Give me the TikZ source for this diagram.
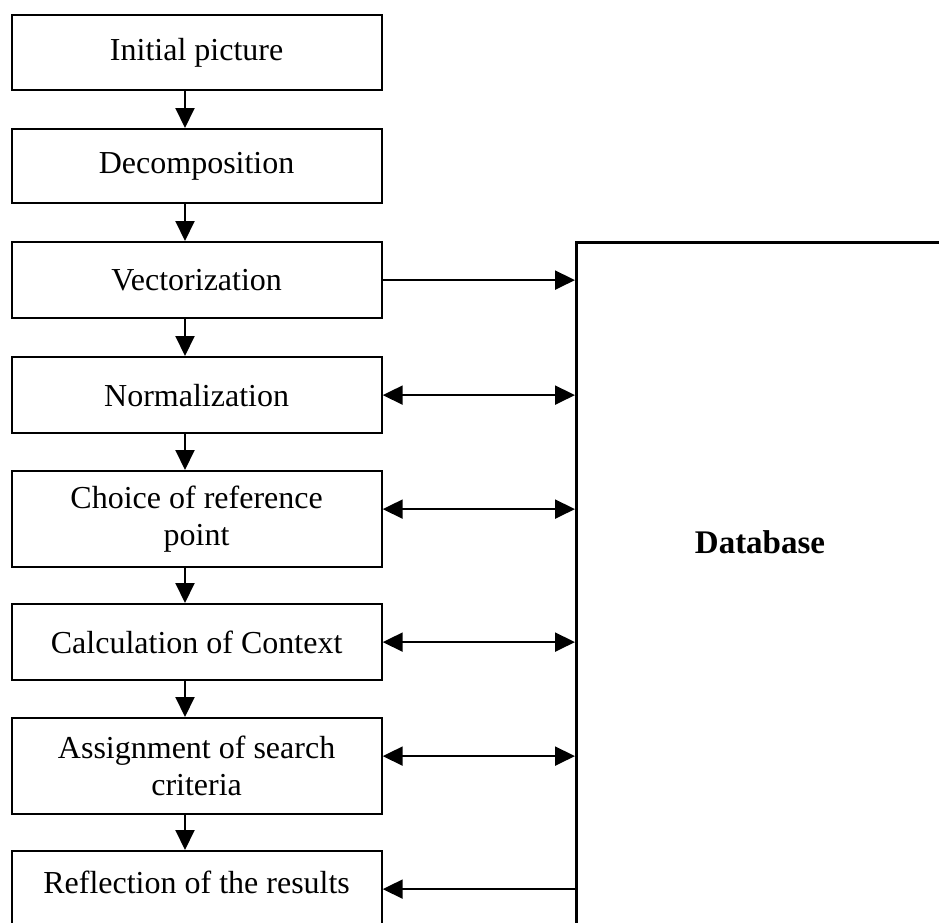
\documentclass[tikz,border=0pt]{standalone}
\usepackage{fontspec}
\setmainfont{Liberation Serif}
\usetikzlibrary{arrows.meta}
\begin{document}
\begin{tikzpicture}[x=1bp,y=-1bp,
  stepbox/.style={draw=black, line width=2.2bp, minimum width=370bp, inner sep=2bp, align=center, font=\fontsize{32bp}{37bp}\selectfont, anchor=north west},
  arr/.style={line width=2bp, >={Triangle[length=20bp,width=19bp]}},
  dbbox/.style={draw=black, line width=2.6bp, minimum width=700bp, minimum height=900bp, anchor=north west, inner sep=0pt},
  dblabel/.style={font=\fontsize{33bp}{38bp}\selectfont\bfseries}
]
\useasboundingbox (0,0) rectangle (939,923);
\clip (0,0) rectangle (939,923);
\fill[white] (0,0) rectangle (939,923);

\node[stepbox, minimum height=75bp] (ini) at (10.5,14) {Initial picture};
\node[stepbox, minimum height=74bp] (dec) at (10.5,128) {Decomposition};
\node[stepbox, minimum height=76bp] (vec) at (10.5,241) {Vectorization};
\node[stepbox, minimum height=76bp] (nor) at (10.5,356) {Normalization};
\node[stepbox, minimum height=96bp] (cho) at (10.5,470) {Choice of reference\\point};
\node[stepbox, minimum height=76bp] (cal) at (10.5,603) {Calculation of Context};
\node[stepbox, minimum height=96bp] (asg) at (10.5,717) {Assignment of search\\criteria};
\node[stepbox, minimum height=76bp, text depth=14bp] (ref) at (10.5,850) {Reflection of the results};

\node[dbbox] (db) at (575,241) {};
\node[dblabel] (dbl) at (760,542) {Database};

\coordinate (ax) at (185,0);

\draw[arr,->] (ini.south -| ax) -- (dec.north -| ax);
\draw[arr,->] (dec.south -| ax) -- (vec.north -| ax);
\draw[arr,->] (vec.south -| ax) -- (nor.north -| ax);
\draw[arr,->] (nor.south -| ax) -- (cho.north -| ax);
\draw[arr,->] (cho.south -| ax) -- (cal.north -| ax);
\draw[arr,->] (cal.south -| ax) -- (asg.north -| ax);
\draw[arr,->] (asg.south -| ax) -- (ref.north -| ax);

\draw[arr,->] (vec.east) -- (vec.east -| db.west);
\draw[arr,<->] (nor.east) -- (nor.east -| db.west);
\draw[arr,<->] ([yshift=10bp]cho.east) -- ([yshift=10bp]cho.east -| db.west);
\draw[arr,<->] (cal.east) -- (cal.east -| db.west);
\draw[arr,<->] ([yshift=10bp]asg.east) -- ([yshift=10bp]asg.east -| db.west);
\draw[arr,<-] (ref.east) -- (ref.east -| db.west);
\end{tikzpicture}
\end{document}
